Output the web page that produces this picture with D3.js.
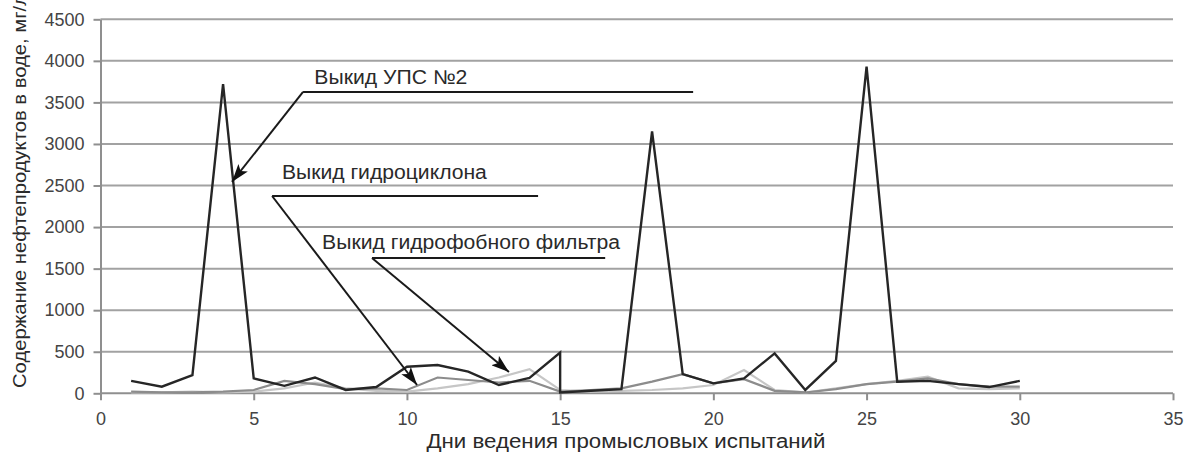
<!DOCTYPE html>
<html>
<head>
<meta charset="utf-8">
<script src="https://cdn.jsdelivr.net/npm/d3@7"></script>
<style>
  html, body { margin: 0; padding: 0; background: #fff; }
  svg { display: block; font-family: "Liberation Sans", Arial, sans-serif; }
</style>
</head>
<body>
<svg id="chart" width="1184" height="463"></svg>
<script>
// ---- data ----
const upsDays   = [1,2,3,4,5,6,7,8,9,10,11,12,13,14,15,15,16,17,18,19,20,21,22,23,24,25,26,27,28,29,30];
const upsValues = [150,80,220,3720,180,90,190,40,75,320,340,260,100,185,490,10,30,50,3150,230,120,180,480,40,390,3930,140,150,110,75,150];

const days = [1,2,3,4,5,6,7,8,9,10,11,12,13,14,15,16,17,18,19,20,21,22,23,24,25,26,27,28,29,30];
const cycloneValues = [20,10,10,20,40,150,110,50,60,40,190,160,130,150,20,40,60,140,230,120,170,30,10,50,110,140,180,110,80,80];
const filterValues  = [10,10,20,10,20,60,130,60,30,20,60,110,190,290,40,20,30,40,60,100,280,40,10,60,110,150,200,60,50,60];

const xTicks = [0,5,10,15,20,25,30,35];
const yTicks = [0,500,1000,1500,2000,2500,3000,3500,4000,4500];

const xTitle = "Дни ведения промысловых испытаний";
const yTitle = "Содержание нефтепродуктов в воде, мг/л";

// annotations: label, text anchor (day, value), leader (x1,x2 at value), arrow tip (day, value)
const annLabels = ["Выкид УПС №2", "Выкид гидроциклона", "Выкид гидрофобного фильтра"];
const annTextPos = [[6.98, 3720], [5.92, 2575], [7.23, 1735]];
const annLeader  = [[6.61, 19.34, 3626], [5.60, 14.28, 2374], [8.86, 16.47, 1628]];
const annTip     = [[4.29, 2543], [10.33, 100], [13.33, 256]];

// ---- layout ----
const svg = d3.select("#chart");
const mLeft = 100.5, mRight = 1173, mTop = 19.3, mBottom = 393.3;

const x = d3.scaleLinear().domain([0, 35]).range([mLeft, mRight]);
const y = d3.scaleLinear().domain([0, 4500]).range([mBottom, mTop]);

const gridColor = "#a2a2a2";

// gridlines
svg.append("g")
  .selectAll("line")
  .data(yTicks.filter(v => v > 0))
  .join("line")
  .attr("x1", mLeft).attr("x2", mRight)
  .attr("y1", d => y(d)).attr("y2", d => y(d))
  .attr("stroke", gridColor).attr("stroke-width", 2);

// axes
const yAxis = svg.append("g")
  .attr("transform", `translate(${mLeft},0)`)
  .call(d3.axisLeft(y).tickValues(yTicks).tickFormat(d3.format("d"))
    .tickSize(7).tickPadding(9).tickSizeOuter(0));
const xAxis = svg.append("g")
  .attr("transform", `translate(0,${mBottom})`)
  .call(d3.axisBottom(x).tickValues(xTicks).tickFormat(d3.format("d"))
    .tickSize(7).tickPadding(12).tickSizeOuter(0));

[xAxis, yAxis].forEach(g => {
  g.select(".domain").attr("stroke", "#8f8f8f").attr("stroke-width", 2);
  g.selectAll(".tick line").attr("stroke", "#8f8f8f").attr("stroke-width", 2);
  g.selectAll(".tick text")
    .attr("fill", "#444")
    .style("font-size", "18px")
    .style("font-family", "'Liberation Sans', Arial, sans-serif");
});
xAxis.select(".domain").attr("d", `M${mLeft},0H${mRight}`);

// series lines
const line = d3.line().x(d => x(d[0])).y(d => y(d[1]));

const series = [
  { pts: days.map((d, i) => [d, filterValues[i]]),  color: "#c6c6c6", w: 2.2 },
  { pts: days.map((d, i) => [d, cycloneValues[i]]), color: "#8c8c8c", w: 2.2 },
  { pts: upsDays.map((d, i) => [d, upsValues[i]]),  color: "#262626", w: 2.4 }
];

svg.append("g")
  .selectAll("path")
  .data(series)
  .join("path")
  .attr("d", d => line(d.pts))
  .attr("fill", "none")
  .attr("stroke", d => d.color)
  .attr("stroke-width", d => d.w)
  .attr("stroke-linejoin", "miter");

// arrow marker
svg.append("defs").append("marker")
  .attr("id", "arrow")
  .attr("viewBox", "0 0 18 12")
  .attr("refX", 18).attr("refY", 6)
  .attr("markerWidth", 18).attr("markerHeight", 12)
  .attr("markerUnits", "userSpaceOnUse")
  .attr("orient", "auto")
  .append("path")
  .attr("d", "M0,0 L18,6 L0,12 L4,6 Z")
  .attr("fill", "#111");

// annotations
const annWidths = [153, 205, 298];
const ann = svg.append("g");
annLabels.forEach((lab, i) => {
  const [lx1, lx2, lv] = annLeader[i];
  ann.append("line")
    .attr("x1", x(lx1)).attr("x2", x(lx2))
    .attr("y1", y(lv)).attr("y2", y(lv))
    .attr("stroke", "#1a1a1a").attr("stroke-width", 2);
  ann.append("line")
    .attr("x1", x(lx1)).attr("y1", y(lv))
    .attr("x2", x(annTip[i][0])).attr("y2", y(annTip[i][1]))
    .attr("stroke", "#1a1a1a").attr("stroke-width", 2)
    .attr("marker-end", "url(#arrow)");
  ann.append("text")
    .attr("x", x(annTextPos[i][0])).attr("y", y(annTextPos[i][1]))
    .attr("fill", "#2a2a2a")
    .style("font-size", "20px")
    .attr("textLength", annWidths[i])
    .attr("lengthAdjust", "spacingAndGlyphs")
    .text(lab);
});

// axis titles
svg.append("text")
  .attr("x", 626).attr("y", 448)
  .attr("text-anchor", "middle")
  .attr("fill", "#2a2a2a")
  .style("font-size", "20px")
  .attr("textLength", 399)
  .attr("lengthAdjust", "spacingAndGlyphs")
  .text(xTitle);

svg.append("text")
  .attr("transform", "translate(26,388) rotate(-90)")
  .attr("text-anchor", "start")
  .attr("fill", "#2a2a2a")
  .style("font-size", "19px")
  .attr("textLength", 394)
  .attr("lengthAdjust", "spacingAndGlyphs")
  .text(yTitle);
</script>
</body>
</html>
